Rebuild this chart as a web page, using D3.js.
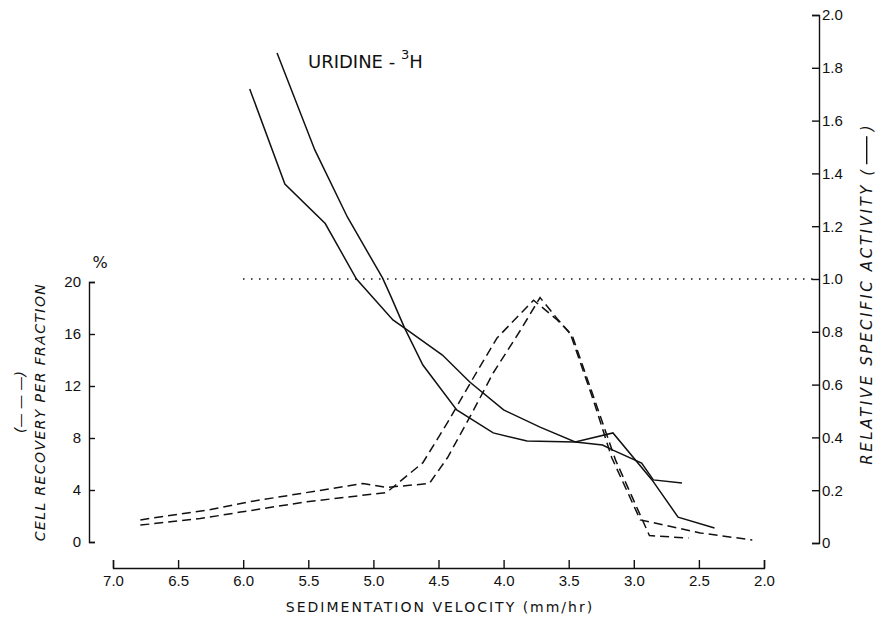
<!DOCTYPE html>
<html>
<head>
<meta charset="utf-8">
<script src="https://cdn.jsdelivr.net/npm/d3@7"></script>
<style>
  body { margin: 0; background: #fff; }
  svg { font-family: "DejaVu Sans", sans-serif; }
</style>
</head>
<body>
<div id="chart"></div>
<script>
// Sedimentation velocity (mm/hr) for each fraction
const velSolidA = [5.95, 5.68, 5.37, 5.13, 4.85, 4.76, 4.47, 4.26, 4.00, 3.72, 3.45, 3.16, 2.86, 2.66, 2.38];
const activityA = [1.72, 1.36, 1.21, 1.00, 0.845, 0.814, 0.712, 0.61, 0.504, 0.439, 0.383, 0.417, 0.239, 0.098, 0.057];

const velSolidB = [5.74, 5.45, 5.20, 4.93, 4.87, 4.76, 4.62, 4.36, 4.08, 3.82, 3.45, 3.24, 3.16, 2.94, 2.85, 2.63];
const activityB = [1.856, 1.489, 1.235, 1.004, 0.939, 0.814, 0.674, 0.504, 0.417, 0.386, 0.383, 0.371, 0.352, 0.303, 0.239, 0.227];

const velDashC = [6.79, 6.25, 5.95, 5.33, 5.08, 4.90, 4.57, 4.43, 4.26, 4.08, 3.87, 3.72, 3.59, 3.47, 3.30, 3.14, 2.88, 2.58];
const recoveryC = [1.7, 2.5, 3.1, 4.1, 4.5, 4.2, 4.5, 6.5, 9.6, 13.0, 16.3, 18.8, 17.2, 15.8, 10.9, 6.3, 0.5, 0.3];

const velDashD = [6.79, 6.33, 6.02, 5.51, 4.90, 4.62, 4.43, 4.24, 4.05, 3.77, 3.59, 3.49, 3.31, 3.17, 2.95, 2.49, 2.09];
const recoveryD = [1.3, 1.8, 2.3, 3.1, 3.8, 6.1, 9.2, 12.5, 15.7, 18.6, 17.1, 16.1, 10.9, 6.5, 1.7, 0.7, 0.15];

const xTicks = [7.0, 6.5, 6.0, 5.5, 5.0, 4.5, 4.0, 3.5, 3.0, 2.5, 2.0];
const leftTicks = [0, 4, 8, 12, 16, 20];
const rightTicks = [0, 0.2, 0.4, 0.6, 0.8, 1.0, 1.2, 1.4, 1.6, 1.8, 2.0];
const referenceLevel = 1.0;

const W = 876, H = 623;
const ink = '#111';

const svg = d3.select('#chart').append('svg')
    .attr('width', W)
    .attr('height', H);

const x = d3.scaleLinear().domain([7.0, 2.0]).range([113, 764]);
const yL = d3.scaleLinear().domain([0, 20]).range([542, 282]);
const yR = d3.scaleLinear().domain([0, 2]).range([543, 15]);

// Axes (ticks point inwards)
const xAxis = svg.append('g')
    .attr('transform', 'translate(0,568)')
    .call(d3.axisBottom(x).tickValues(xTicks).tickFormat(d3.format('.1f'))
        .tickSizeInner(-8).tickSizeOuter(-8).tickPadding(7));

const leftAxis = svg.append('g')
    .attr('transform', 'translate(89,0)')
    .call(d3.axisLeft(yL).tickValues(leftTicks)
        .tickSizeInner(-6).tickSizeOuter(-6).tickPadding(8));

const rightAxis = svg.append('g')
    .attr('transform', 'translate(819,0)')
    .call(d3.axisRight(yR).tickValues(rightTicks)
        .tickFormat(d => d === 0 ? '0' : d3.format('.1f')(d))
        .tickSizeInner(-7).tickSizeOuter(-7).tickPadding(3));

[xAxis, leftAxis, rightAxis].forEach(a => {
    a.selectAll('path').style('stroke', ink).style('stroke-width', 1.4);
    a.selectAll('line').style('stroke', ink).style('stroke-width', 1.4);
    a.selectAll('text').style('fill', ink).style('font-size', '15px');
});

// Dotted reference line at relative activity 1.0
svg.append('line')
    .attr('x1', 243).attr('x2', 819)
    .attr('y1', yR(referenceLevel)).attr('y2', yR(referenceLevel))
    .style('stroke', ink)
    .style('stroke-width', 1.5)
    .style('stroke-dasharray', '1.5,6.5');

// Curves: solid = relative specific activity (right), dashed = cell recovery (left)
const solidLine = d3.line().x(d => x(d[0])).y(d => yR(d[1]));
const dashLine = d3.line().x(d => x(d[0])).y(d => yL(d[1]));

[[velSolidA, activityA], [velSolidB, activityB]].forEach(([v, r]) => {
    svg.append('path')
        .datum(v.map((d, i) => [d, r[i]]))
        .attr('d', solidLine)
        .style('fill', 'none')
        .style('stroke', ink)
        .style('stroke-width', 1.5);
});

[[velDashC, recoveryC], [velDashD, recoveryD]].forEach(([v, p]) => {
    svg.append('path')
        .datum(v.map((d, i) => [d, p[i]]))
        .attr('d', dashLine)
        .style('fill', 'none')
        .style('stroke', ink)
        .style('stroke-width', 1.5)
        .style('stroke-dasharray', '9,5');
});

// Labels
const title = svg.append('text')
    .attr('x', 308).attr('y', 68)
    .style('font-size', '18px')
    .style('fill', ink);
title.append('tspan').text('URIDINE - ');
title.append('tspan').attr('dy', -9).style('font-size', '13px').text('3');
title.append('tspan').attr('dy', 9).text('H');

svg.append('text')
    .attr('x', 100).attr('y', 268)
    .style('text-anchor', 'middle')
    .style('font-size', '16px')
    .style('fill', ink)
    .text('%');

svg.append('text')
    .attr('x', 440).attr('y', 612)
    .style('text-anchor', 'middle')
    .style('font-size', '14px')
    .style('letter-spacing', '2px')
    .style('fill', ink)
    .text('SEDIMENTATION VELOCITY (mm/hr)');

svg.append('text')
    .attr('transform', 'translate(45,412) rotate(-90)')
    .style('text-anchor', 'middle')
    .style('font-size', '14px')
    .style('font-style', 'italic')
    .style('letter-spacing', '1.4px')
    .style('fill', ink)
    .text('CELL RECOVERY PER FRACTION');

svg.append('text')
    .attr('transform', 'translate(25,402) rotate(-90)')
    .style('text-anchor', 'middle')
    .style('font-size', '14px')
    .style('font-style', 'italic')
    .style('fill', ink)
    .text('(— — —)');

// Right title: text, a drawn solid sample line, closing paren
const rt = svg.append('g');
const rtText = rt.append('text')
    .attr('x', 0).attr('y', 0)
    .style('font-size', '15px')
    .style('font-style', 'italic')
    .style('letter-spacing', '2.6px')
    .style('fill', ink)
    .text('RELATIVE SPECIFIC ACTIVITY (');
const len = rtText.node().getComputedTextLength();
rt.append('rect')
    .attr('x', len + 3).attr('y', -6)
    .attr('width', 28).attr('height', 1.4)
    .style('fill', ink);
rt.append('text')
    .attr('x', len + 36).attr('y', 0)
    .style('font-size', '15px')
    .style('font-style', 'italic')
    .style('fill', ink)
    .text(')');
const totalLen = len + 42;
rt.attr('transform', `translate(872,${295 + totalLen / 2}) rotate(-90)`);
</script>
</body>
</html>
